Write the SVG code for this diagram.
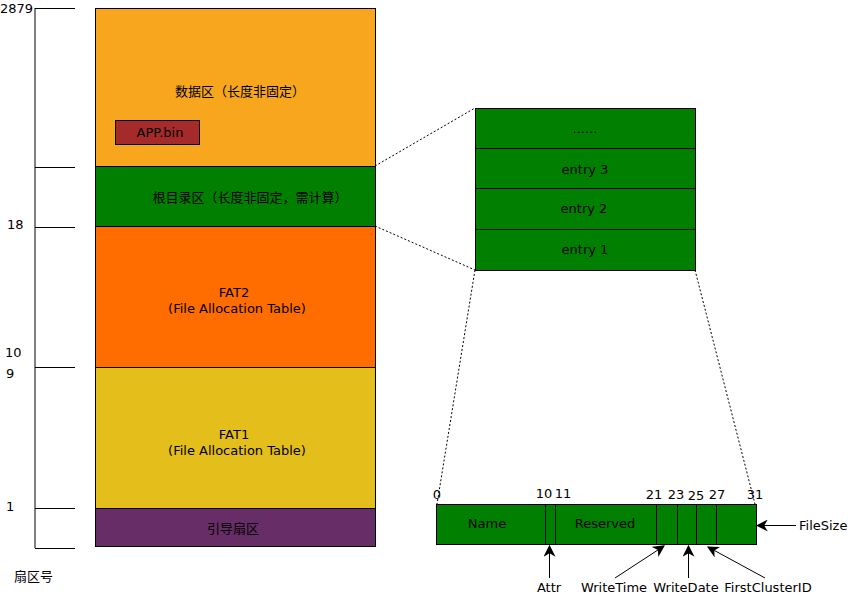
<svg xmlns="http://www.w3.org/2000/svg" width="848" height="596" viewBox="0 0 848 596">
<style>
text{font-family:"DejaVu Sans","Noto Sans CJK SC",sans-serif;font-size:13px;fill:#000;}
.c{text-anchor:middle;}
.blk{stroke:#000;stroke-width:1;}
.ln{stroke:#000;stroke-width:1;fill:none;}
.dash{stroke:#000;stroke-width:1;stroke-dasharray:2,2;fill:none;}
</style>
<defs>
<marker id="ah" viewBox="0 0 10 10" refX="9" refY="5" markerWidth="12" markerHeight="12" orient="auto" markerUnits="userSpaceOnUse">
<path d="M0,0 L10,5 L0,10 L3,5 z" fill="#000"/>
</marker>
</defs>
<rect width="848" height="596" fill="#fff"/>
<g id="axis">
<line class="ln" x1="35" y1="8" x2="35" y2="548"/>
<line class="ln" x1="35" y1="8.5" x2="75" y2="8.5"/>
<line class="ln" x1="35" y1="167.5" x2="75" y2="167.5"/>
<line class="ln" x1="35" y1="227.5" x2="75" y2="227.5"/>
<line class="ln" x1="35" y1="367.5" x2="75" y2="367.5"/>
<line class="ln" x1="35" y1="508.5" x2="75" y2="508.5"/>
<line class="ln" x1="35" y1="548.5" x2="75" y2="548.5"/>
<text x="0" y="13">2879</text>
<text x="7" y="229">18</text>
<text x="5" y="357">10</text>
<text x="6" y="378">9</text>
<text x="6" y="511">1</text>
<text x="14" y="581">扇区号</text>
</g>
<g id="data-region">
<rect class="blk" x="95.5" y="8.5" width="280" height="158" fill="#F8A61E"/>
<text class="c" x="240" y="96">数据区（长度非固定）</text>
</g>
<g id="app-bin">
<rect class="blk" x="115.5" y="120.5" width="84" height="24" fill="#A52A2A"/>
<text class="c" x="160" y="137">APP.bin</text>
</g>
<g id="root-dir">
<rect class="blk" x="95.5" y="166.5" width="280" height="60" fill="#007F00"/>
<text class="c" x="250" y="202">根目录区（长度非固定，需计算）</text>
</g>
<g id="fat2">
<rect class="blk" x="95.5" y="226.5" width="280" height="141" fill="#FF6D00"/>
<text class="c" x="234" y="297">FAT2</text>
<text class="c" x="237" y="313">(File Allocation Table)</text>
</g>
<g id="fat1">
<rect class="blk" x="95.5" y="367.5" width="280" height="141" fill="#E4BE1A"/>
<text class="c" x="234" y="439">FAT1</text>
<text class="c" x="237" y="455">(File Allocation Table)</text>
</g>
<g id="boot">
<rect class="blk" x="95.5" y="508.5" width="280" height="38" fill="#662D66"/>
<text class="c" x="233" y="533">引导扇区</text>
</g>
<g id="entries">
<rect class="blk" x="475.5" y="108.5" width="220" height="162" fill="#007F00"/>
<line class="ln" x1="475" y1="148.5" x2="695" y2="148.5"/>
<line class="ln" x1="475" y1="188.5" x2="695" y2="188.5"/>
<line class="ln" x1="475" y1="229.5" x2="695" y2="229.5"/>
<text class="c" x="585" y="133">......</text>
<text class="c" x="585" y="174">entry 3</text>
<text class="c" x="584" y="213">entry 2</text>
<text class="c" x="585" y="254">entry 1</text>
</g>
<g id="entry-layout">
<rect class="blk" x="436.5" y="504.5" width="320" height="40" fill="#007F00"/>
<line class="ln" x1="545.5" y1="504" x2="545.5" y2="545"/>
<line class="ln" x1="555.5" y1="504" x2="555.5" y2="545"/>
<line class="ln" x1="656.5" y1="504" x2="656.5" y2="545"/>
<line class="ln" x1="677.5" y1="504" x2="677.5" y2="545"/>
<line class="ln" x1="696.5" y1="504" x2="696.5" y2="545"/>
<line class="ln" x1="716.5" y1="504" x2="716.5" y2="545"/>
<text class="c" x="487" y="528">Name</text>
<text class="c" x="605" y="528">Reserved</text>
<text class="c" x="437" y="499">0</text>
<text class="c" x="544" y="498">10</text>
<text class="c" x="563" y="498">11</text>
<text class="c" x="654" y="499">21</text>
<text class="c" x="676" y="499">23</text>
<text class="c" x="696" y="500">25</text>
<text class="c" x="717" y="499">27</text>
<text class="c" x="755" y="499">31</text>
</g>
<g id="connectors">
<line class="dash" x1="375" y1="166" x2="475" y2="108"/>
<line class="dash" x1="375" y1="226" x2="475" y2="270"/>
<line class="dash" x1="475" y1="270" x2="437" y2="504"/>
<line class="dash" x1="695" y1="270" x2="755" y2="504"/>
<line class="ln" x1="549.5" y1="578" x2="549.5" y2="546" marker-end="url(#ah)"/>
<line class="ln" x1="615" y1="578" x2="664" y2="546" marker-end="url(#ah)"/>
<line class="ln" x1="688.5" y1="578" x2="688.5" y2="546" marker-end="url(#ah)"/>
<line class="ln" x1="765" y1="578" x2="708" y2="547" marker-end="url(#ah)"/>
<line class="ln" x1="796" y1="525.5" x2="757" y2="525.5" marker-end="url(#ah)"/>
</g>
<g id="labels">
<text class="c" x="549" y="592">Attr</text>
<text class="c" x="614" y="592">WriteTime</text>
<text class="c" x="686" y="592">WriteDate</text>
<text class="c" x="768" y="592">FirstClusterID</text>
<text x="799" y="530">FileSize</text>
</g>
</svg>
